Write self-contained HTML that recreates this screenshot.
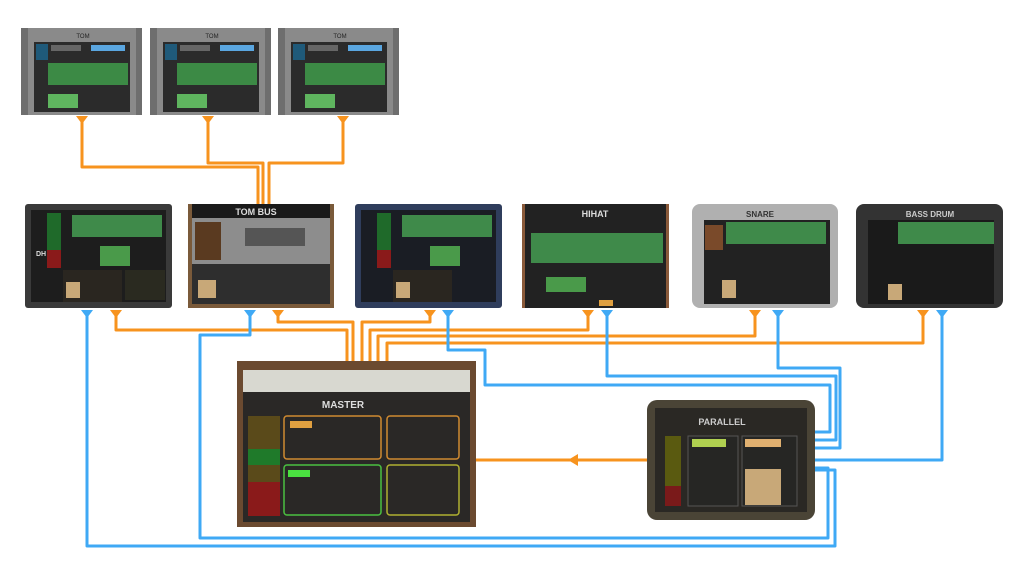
<!DOCTYPE html>
<html><head><meta charset="utf-8"><style>
body{margin:0;background:#fff;}
svg{display:block;font-family:"Liberation Sans",sans-serif;}
</style></head><body>
<svg width="1024" height="576" viewBox="0 0 1024 576" xmlns="http://www.w3.org/2000/svg">
<g fill="none" stroke-width="3" stroke-linejoin="round">
<g stroke="#f7931e">
<path d="M82,120V167H258V204"/><path d="M208,120V163H263V204"/><path d="M343,120V163H269V204"/>
<path d="M116,312V330H347V361"/><path d="M278,312V322H353V361"/><path d="M430,312V322H362V361"/>
<path d="M588,312V330H370V361"/><path d="M755,312V336H378V361"/><path d="M923,312V343H387V361"/>
<path d="M647,460H476"/>
</g>
<g stroke="#3fa9f5">
<path d="M87,312V546H835V470H815"/>
<path d="M250,312V335H200V538H828V468H815"/>
<path d="M448,312V350H485V385H830V432H815"/>
<path d="M607,312V376H836V440H815"/>
<path d="M778,312V368H840V448H815"/>
<path d="M942,312V460H815"/>
</g>
</g>
<g fill="#f7931e">
<path d="M76,116h12l-6,8z"/><path d="M202,116h12l-6,8z"/><path d="M337,116h12l-6,8z"/>
<path d="M110,310h12l-6,8z"/><path d="M272,310h12l-6,8z"/><path d="M424,310h12l-6,8z"/>
<path d="M582,310h12l-6,8z"/><path d="M749,310h12l-6,8z"/><path d="M917,310h12l-6,8z"/>
<path d="M568,460l10,-6v12z"/>
</g>
<g fill="#3fa9f5">
<path d="M81,310h12l-6,8z"/><path d="M244,310h12l-6,8z"/><path d="M442,310h12l-6,8z"/>
<path d="M601,310h12l-6,8z"/><path d="M772,310h12l-6,8z"/><path d="M936,310h12l-6,8z"/>
</g>
<g id="tom">
<rect x="21" y="28" width="121" height="87" fill="#6e6e6e"/>
<rect x="28" y="28" width="108" height="87" fill="#8a8a8a"/>
<rect x="34" y="42" width="96" height="70" fill="#2b2b2b"/>
<rect x="36" y="44" width="12" height="16" fill="#1f5a7a"/>
<rect x="51" y="45" width="30" height="6" fill="#666"/><rect x="91" y="45" width="34" height="6" fill="#5aa6e0"/>
<rect x="48" y="63" width="80" height="22" fill="#3c8a45"/>
<rect x="48" y="94" width="30" height="14" fill="#5fb55f"/>
<text x="83" y="38" font-size="6" fill="#222" text-anchor="middle">TOM</text>
</g>
<use href="#tom" x="129"/><use href="#tom" x="257"/>
<g>
<rect x="25" y="204" width="147" height="104" rx="3" fill="#3a3a3a"/>
<rect x="31" y="210" width="135" height="92" fill="#1d1d1d"/>
<rect x="47" y="213" width="14" height="40" fill="#1f6a2a"/><rect x="47" y="250" width="14" height="18" fill="#8a1a1a"/>
<rect x="72" y="215" width="90" height="22" fill="#3f8a4a"/>
<rect x="100" y="246" width="30" height="20" fill="#4a9a4a"/>
<rect x="63" y="270" width="59" height="32" fill="#2a2620"/><rect x="66" y="282" width="14" height="16" fill="#c8a878"/>
<rect x="125" y="270" width="40" height="30" fill="#2a2a20"/>
<text x="36" y="256" font-size="7" font-weight="bold" fill="#ddd">DH</text>
</g>
<g>
<rect x="188" y="204" width="146" height="104" fill="#7a5a3a"/>
<rect x="192" y="204" width="138" height="14" fill="#1a1a1a"/>
<text x="256" y="215" font-size="9" font-weight="bold" fill="#ddd" text-anchor="middle">TOM BUS</text>
<rect x="192" y="218" width="138" height="46" fill="#8d8d8d"/>
<rect x="195" y="222" width="26" height="38" fill="#5a3a20"/>
<rect x="245" y="228" width="60" height="18" fill="#555"/>
<rect x="192" y="264" width="138" height="40" fill="#2e2e2e"/>
<rect x="198" y="280" width="18" height="18" fill="#c8a878"/>
</g>
<g>
<rect x="355" y="204" width="147" height="104" rx="3" fill="#2f3d5c"/>
<rect x="361" y="210" width="135" height="92" fill="#1a1d24"/>
<rect x="377" y="213" width="14" height="40" fill="#1f6a2a"/><rect x="377" y="250" width="14" height="18" fill="#8a1a1a"/>
<rect x="402" y="215" width="90" height="22" fill="#3f8a4a"/>
<rect x="430" y="246" width="30" height="20" fill="#4a9a4a"/>
<rect x="393" y="270" width="59" height="32" fill="#2a2620"/><rect x="396" y="282" width="14" height="16" fill="#c8a878"/>
</g>
<g>
<rect x="522" y="204" width="147" height="104" fill="#8a5a3a"/>
<rect x="525" y="204" width="141" height="104" fill="#222"/>
<text x="595" y="217" font-size="9" font-weight="bold" fill="#ddd" text-anchor="middle">HIHAT</text>
<rect x="531" y="233" width="132" height="30" fill="#3f8a4a"/>
<rect x="546" y="277" width="40" height="15" fill="#4a9a4a"/>
<rect x="599" y="300" width="14" height="6" fill="#e0a040"/>
</g>
<g>
<rect x="692" y="204" width="146" height="104" rx="8" fill="#b0b0b0"/>
<rect x="704" y="220" width="126" height="84" fill="#222"/>
<text x="760" y="217" font-size="8" font-weight="bold" fill="#333" text-anchor="middle">SNARE</text>
<rect x="726" y="222" width="100" height="22" fill="#3f8a4a"/>
<rect x="705" y="225" width="18" height="25" fill="#7a4a2a"/>
<rect x="722" y="280" width="14" height="18" fill="#c8a878"/>
</g>
<g>
<rect x="856" y="204" width="147" height="104" rx="8" fill="#333"/>
<rect x="868" y="220" width="126" height="84" fill="#1a1a1a"/>
<text x="930" y="217" font-size="8" font-weight="bold" fill="#ccc" text-anchor="middle">BASS DRUM</text>
<rect x="898" y="222" width="96" height="22" fill="#3f8a4a"/>
<rect x="888" y="284" width="14" height="16" fill="#c8a878"/>
</g>
<g>
<rect x="237" y="361" width="239" height="166" fill="#6b4a30"/>
<rect x="243" y="370" width="227" height="22" fill="#d8d8d0"/>
<rect x="243" y="392" width="227" height="130" fill="#2a2826"/>
<text x="343" y="408" font-size="10" font-weight="bold" fill="#ddd" text-anchor="middle">MASTER</text>
<rect x="248" y="416" width="32" height="100" fill="#5a4a1a"/>
<rect x="248" y="449" width="32" height="16" fill="#1f7a2a"/>
<rect x="248" y="482" width="32" height="34" fill="#8a1a1a"/>
<rect x="284" y="416" width="97" height="43" rx="3" fill="none" stroke="#d08a30" stroke-width="1.5"/>
<rect x="290" y="421" width="22" height="7" fill="#e0a040"/>
<rect x="387" y="416" width="72" height="43" rx="3" fill="none" stroke="#d08a30" stroke-width="1.5"/>
<rect x="284" y="465" width="97" height="50" rx="3" fill="none" stroke="#4ac040" stroke-width="1.5"/>
<rect x="288" y="470" width="22" height="7" fill="#4ae040"/>
<rect x="387" y="465" width="72" height="50" rx="3" fill="none" stroke="#b0b030" stroke-width="1.5"/>
</g>
<g>
<rect x="647" y="400" width="168" height="120" rx="10" fill="#4a4436"/>
<rect x="655" y="408" width="152" height="104" fill="#2a2824"/>
<text x="722" y="425" font-size="9" font-weight="bold" fill="#ccc" text-anchor="middle">PARALLEL</text>
<rect x="665" y="436" width="16" height="60" fill="#5a5a10"/>
<rect x="665" y="486" width="16" height="20" fill="#7a1a1a"/>
<rect x="688" y="436" width="50" height="70" fill="#262624" stroke="#555"/>
<rect x="692" y="439" width="34" height="8" fill="#b0d050"/>
<rect x="742" y="436" width="55" height="70" fill="#262624" stroke="#555"/>
<rect x="745" y="439" width="36" height="8" fill="#e0b070"/>
<rect x="745" y="469" width="36" height="36" fill="#c8a878"/>
</g>
</svg>
</body></html>
